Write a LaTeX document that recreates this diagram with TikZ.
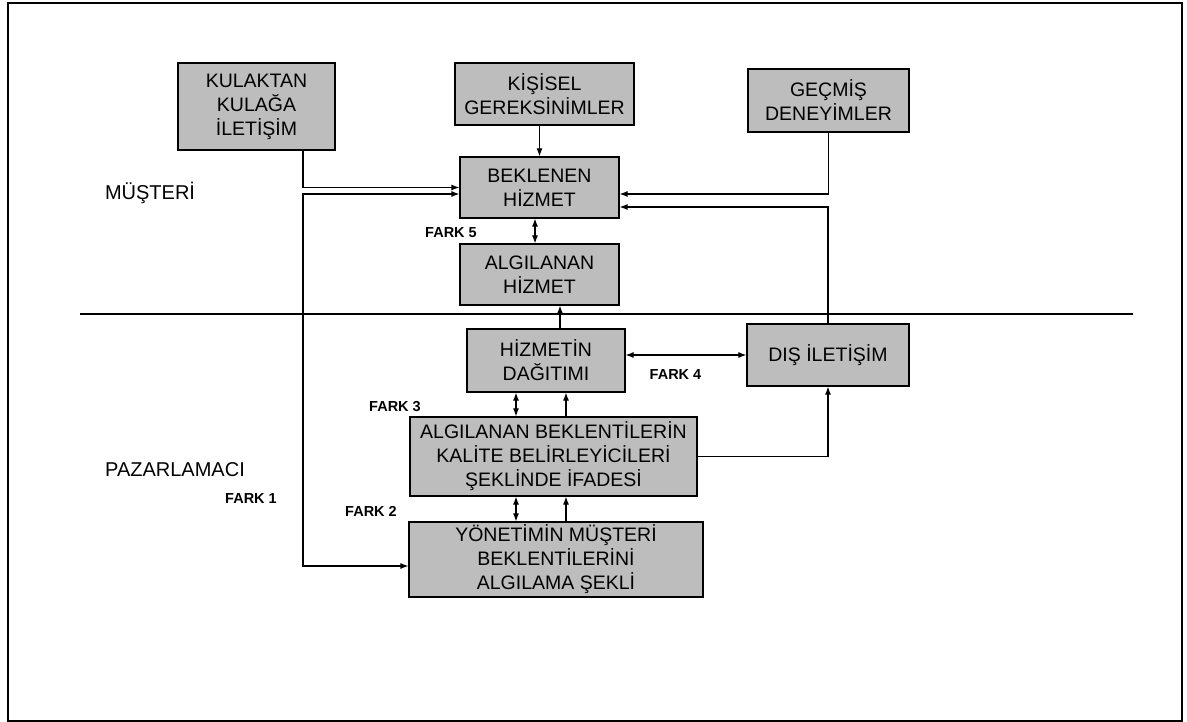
\documentclass[tikz,border=0pt]{standalone}
\usepackage{fontspec}
\setmainfont{Liberation Sans}
\usetikzlibrary{positioning, arrows.meta, calc}

\definecolor{boxgray}{gray}{0.74}
\tikzset{
  box/.style={draw, line width=1.2pt, fill=boxgray, align=center, inner sep=2pt,
    font=\fontsize{19.5}{24}\selectfont},
  side/.style={font=\fontsize{20}{24}\selectfont},
  fark/.style={font=\bfseries\fontsize{14.5}{17}\selectfont},
}

\begin{document}
\begin{tikzpicture}[x=1pt, y=-1pt, >={Latex[length=8pt,width=6pt]}, line width=1.1pt]
  \useasboundingbox (0,0) rectangle (1187,722);
  \draw[line width=2pt] (8,3) rectangle (1182,721);

  % musteri tarafi
  \node[box, minimum width=157, minimum height=87] (kulak) at (256.5,106.5) {KULAKTAN\\KULAĞA\\İLETİŞİM};
  \node[box, minimum width=179, minimum height=62] (ihtiyac) at (544.5,94) {KİŞİSEL\\GEREKSİNİMLER};
  \node[box, minimum width=161, minimum height=63] (gecmis) at (828.5,100.5) {GEÇMİŞ\\DENEYİMLER};
  \node[box, minimum width=159, minimum height=61] (beklenen) at (539.5,187.5) {BEKLENEN\\HİZMET};
  \node[box, minimum width=159, minimum height=61] (algilanan) at (539.5,274.5) {ALGILANAN\\HİZMET};

  % pazarlamaci tarafi
  \node[box, minimum width=158, minimum height=63] (dagitim) at (546,360.5) {HİZMETİN\\DAĞITIMI};
  \node[box, minimum width=162, minimum height=62] (dis) at (828,355) {DIŞ İLETİŞİM};
  \node[box, minimum width=287, minimum height=79] (kalite) at (553.5,456.5) {ALGILANAN BEKLENTİLERİN\\KALİTE BELİRLEYİCİLERİ\\ŞEKLİNDE İFADESİ};
  \node[box, minimum width=294, minimum height=75] (yonetim) at (556,559.5) {YÖNETİMİN MÜŞTERİ\\BEKLENTİLERİNİ\\ALGILAMA ŞEKLİ};

  \node[side] (musteri) at (150,193) {MÜŞTERİ};
  \node[side] (pazar) at (175,470) {PAZARLAMACI};
  \node[fark] (fark1) at (251,499) {FARK 1};
  \node[fark] (fark2) at (371,511) {FARK 2};
  \node[fark] (fark3) at (395,407) {FARK 3};
  \node[fark] (fark4) at (675.5,375) {FARK 4};
  \node[fark] (fark5) at (451,233) {FARK 5};

  \draw[line width=1.8pt] (80,314) -- (1133,314);

  % dikey hatlar
  \coordinate (sol) at (303,0);
  \coordinate (orta) at (516,0);
  \coordinate (sag) at (566,0);
  \coordinate (ust) at (560,0);

  \draw[->] (kulak.south -| sol) |- (beklenen.west);
  \draw[<->] ($(beklenen.west)+(0,6.5)$) -| ($(yonetim.west -| sol)+(0,6.5)$) -- ($(yonetim.west)+(0,6.5)$);
  \draw[->] (ihtiyac.south -| beklenen.north) -- (beklenen.north);
  \draw[->] (gecmis.south) |- ($(beklenen.east)+(0,6.5)$);
  \draw[->] (dis.north) |- ($(beklenen.east)+(0,19.5)$);
  \draw[<->] ($(beklenen.south)+(-4.5,0)$) -- ($(algilanan.north)+(-4.5,0)$);
  \draw[->] (dagitim.north -| ust) -- (algilanan.south -| ust);
  \draw[<->] (dagitim.east |- dis.west) -- (dis.west);
  \draw[<->] (kalite.north -| orta) -- (dagitim.south -| orta);
  \draw[->] (kalite.north -| sag) -- (dagitim.south -| sag);
  \draw[->] (kalite.east) -| (dis.south);
  \draw[<->] (yonetim.north -| orta) -- (kalite.south -| orta);
  \draw[->] (yonetim.north -| sag) -- (kalite.south -| sag);
\end{tikzpicture}
\end{document}
